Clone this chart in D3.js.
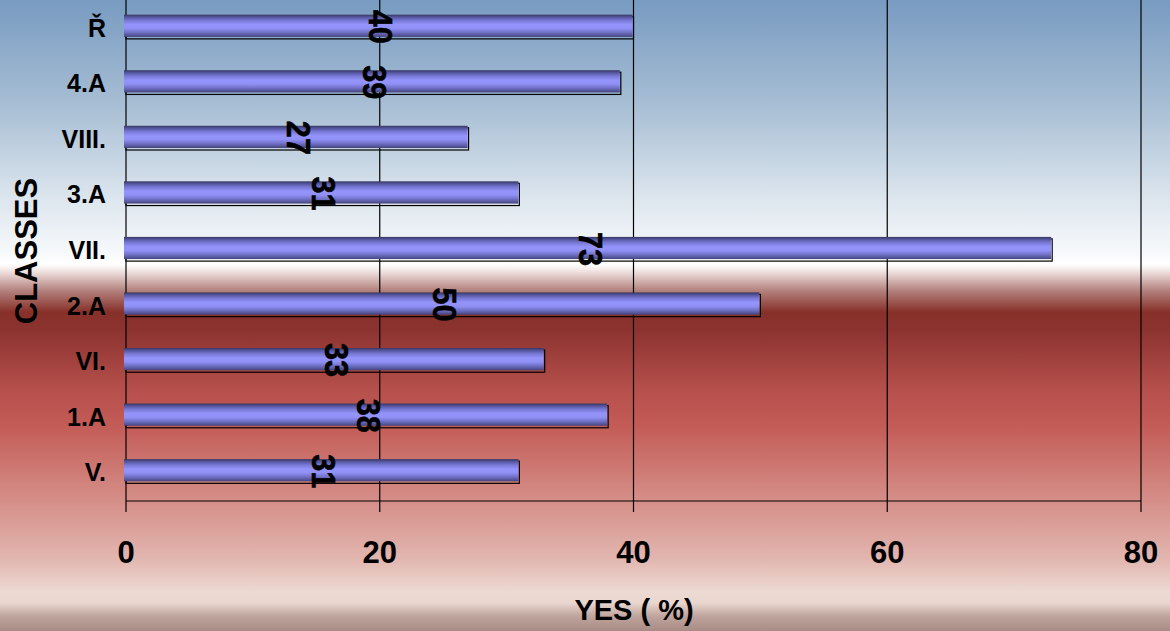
<!DOCTYPE html>
<html>
<head>
<meta charset="utf-8">
<script src="https://cdn.jsdelivr.net/npm/d3@7"></script>
<style>
  html, body { margin: 0; padding: 0; }
  svg { display: block; }
  text { font-family: Arial, "Liberation Sans", sans-serif; font-weight: bold; fill: #000; }
</style>
</head>
<body>
<svg id="chart" width="1170" height="631"></svg>
<script>
// Classes, listed from the top row to the bottom row
const classes = ["Ř", "4.A", "VIII.", "3.A", "VII.", "2.A", "VI.", "1.A", "V."];
// Share of YES answers per class (%)
const yesPercent = [40, 39, 27, 31, 73, 50, 33, 38, 31];
// Value axis ticks
const xTicks = [0, 20, 40, 60, 80];

const svg = d3.select("#chart");
const W = 1170, H = 631;
const defs = svg.append("defs");

// Page background: steel blue to white, then deep red fading to pale rose
const bg = defs.append("linearGradient").attr("id", "bg")
  .attr("x1", 0).attr("y1", 0).attr("x2", 0).attr("y2", 1);
[
  [0, "#789bc1"], [100, "#a5bcd3"], [200, "#dde6ee"], [255, "#f8fafc"],
  [264, "#ffffff"], [270, "#f3e9e7"], [290, "#b58480"], [312, "#873029"],
  [330, "#8c3330"], [390, "#b6504c"], [425, "#c35b56"], [500, "#d58e88"],
  [560, "#e2b7b0"], [592, "#ecdad3"], [603, "#e9d7cf"], [616, "#bfa59d"],
  [631, "#a88b85"]
].forEach(([y, c]) => bg.append("stop").attr("offset", y / H).attr("stop-color", c));

svg.append("rect").attr("width", W).attr("height", H).attr("fill", "url(#bg)");

// Bar body shading: dark rim, bright centre
const barGrad = defs.append("linearGradient").attr("id", "barGrad")
  .attr("x1", 0).attr("y1", 0).attr("x2", 0).attr("y2", 1);
[
  [0, "#36365e"], [0.1, "#52529a"], [0.25, "#7676d2"], [0.45, "#9494fc"],
  [0.62, "#9090f6"], [0.8, "#7070c6"], [0.92, "#56569c"], [1, "#444478"]
].forEach(([o, c]) => barGrad.append("stop").attr("offset", o).attr("stop-color", c));

const plot = { left: 126, right: 1141, top: 0, bottom: 500 };

const x = d3.scaleLinear().domain([0, 80]).range([plot.left, plot.right]);
const y = d3.scaleBand().domain(classes).range([plot.top, plot.bottom])
  .paddingInner(0.6).paddingOuter(0.3);

// Vertical gridlines, running past the baseline as tick marks
svg.append("g").selectAll("line").data(xTicks).join("line")
  .attr("x1", d => x(d)).attr("x2", d => x(d))
  .attr("y1", 0).attr("y2", 512)
  .attr("stroke", "#000").attr("stroke-width", 1.2);

// Category axis baseline
svg.append("line")
  .attr("x1", x(0)).attr("x2", x(80))
  .attr("y1", 501).attr("y2", 501)
  .attr("stroke", "#000").attr("stroke-width", 1.2);

const rows = classes.map((c, i) => ({ c, v: yesPercent[i] }));

// Bar outlines (offset frame behind the body)
svg.append("g").selectAll("rect").data(rows).join("rect")
  .attr("x", x(0))
  .attr("y", d => y(d.c))
  .attr("width", d => x(d.v) - x(0))
  .attr("height", y.bandwidth())
  .attr("fill", "none")
  .attr("stroke", "#000")
  .attr("stroke-width", 1.2);

// Bar bodies
svg.append("g").selectAll("rect").data(rows).join("rect")
  .attr("x", x(0) - 2)
  .attr("y", d => y(d.c) - 2)
  .attr("width", d => x(d.v) - x(0) + 1)
  .attr("height", y.bandwidth())
  .attr("fill", "url(#barGrad)");

// Value labels, rotated, centred along each bar
svg.append("g").selectAll("text").data(rows).join("text")
  .attr("transform", d => `translate(${x(d.v / 2) + 2},${y(d.c) + y.bandwidth() / 2 - 1}) rotate(90) scale(0.9,1)`)
  .attr("text-anchor", "middle")
  .attr("dy", "0.36em")
  .style("font-size", "34px")
  .style("stroke", "#000").style("stroke-width", 0.6)
  .text(d => d.v);

// Category labels
svg.append("g").selectAll("text").data(rows).join("text")
  .attr("x", 106)
  .attr("y", d => y(d.c) + y.bandwidth() / 2)
  .attr("dy", "0.36em")
  .attr("text-anchor", "end")
  .style("font-size", "25px")
  .text(d => d.c);

// Value axis tick labels
svg.append("g").selectAll("text").data(xTicks).join("text")
  .attr("x", d => x(d))
  .attr("y", 563)
  .attr("text-anchor", "middle")
  .style("font-size", "31px")
  .text(d => d);

// Axis titles
svg.append("text")
  .attr("x", 634).attr("y", 620)
  .attr("text-anchor", "middle")
  .style("font-size", "29px")
  .text("YES ( %)");

svg.append("text")
  .attr("transform", "translate(37,251) rotate(-90)")
  .attr("text-anchor", "middle")
  .style("font-size", "31px")
  .text("CLASSES");
</script>
</body>
</html>
